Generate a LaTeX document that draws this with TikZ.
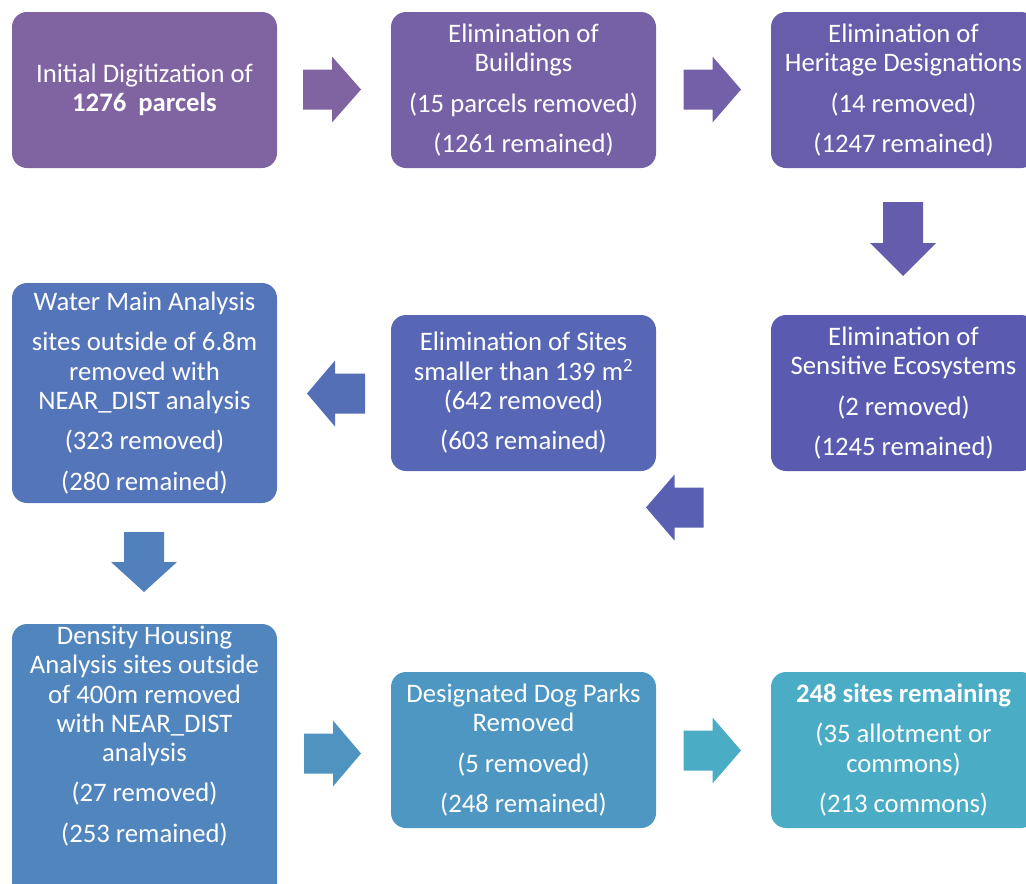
\documentclass[tikz,border=0pt]{standalone}
\usepackage{fontspec}
\setmainfont{Carlito}
\definecolor{c0}{HTML}{8064A2}
\definecolor{c1}{HTML}{7661A7}
\definecolor{c2}{HTML}{685DAB}
\definecolor{c3}{HTML}{5A5BB0}
\definecolor{c4}{HTML}{5767B5}
\definecolor{c5}{HTML}{5475B9}
\definecolor{c6}{HTML}{5185BD}
\definecolor{c7}{HTML}{4E97C2}
\definecolor{c8}{HTML}{4BACC6}
\colorlet{a0}{c0}
\colorlet{a1}{c1!86!c2}
\colorlet{a2}{c2!71!c3}
\colorlet{a3}{c3!57!c4}
\colorlet{a4}{c4!43!c5}
\colorlet{a5}{c5!29!c6}
\colorlet{a6}{c6!14!c7}
\colorlet{a7}{c8}
\newcommand\pgap{11pt}
% horizontal block arrow: colour, tail x, head-base x, tip x, centre y
\newcommand\HBlock[5]{\fill[#1] ({#2},{#5-20}) -- ({#3},{#5-20}) -- ({#3},{#5-33}) -- ({#4},{#5}) -- ({#3},{#5+33}) -- ({#3},{#5+20}) -- ({#2},{#5+20}) -- cycle;}
% vertical block arrow: colour, tail y, head-base y, tip y, centre x
\newcommand\VBlock[5]{\fill[#1] ({#5-20},{#2}) -- ({#5-20},{#3}) -- ({#5-33},{#3}) -- ({#5},{#4}) -- ({#5+33},{#3}) -- ({#5+20},{#3}) -- ({#5+20},{#2}) -- cycle;}
\begin{document}
\begin{tikzpicture}[x=1pt,y=-1pt,
  box/.style={rounded corners=15pt, minimum width=265pt, minimum height=156pt,
    inner sep=0pt, text=white, align=center, font=\fontsize{26.7}{29.3}\selectfont},
  txt/.style={inner sep=0pt, text=white, align=center, font=\fontsize{26.7}{29.3}\selectfont}]
\useasboundingbox (0,0) rectangle (1026,884);
\clip (0,0) rectangle (1026,884);

\node[box, fill=c0] (b1) at (144.5,90) {Initial Digitization of\\\textbf{1276\ \ parcels}};
\node[box, fill=c1] (b2) at (523.5,90) {Elimination of\\Buildings\\[\pgap](15 parcels removed)\\[\pgap](1261 remained)};
\node[box, fill=c2] (b3) at (903.5,90) {Elimination of\\Heritage Designations\\[\pgap](14 removed)\\[\pgap](1247 remained)};
\node[box, fill=c3] (b4) at (903.5,393) {Elimination of\\Sensitive Ecosystems\\[\pgap](2 removed)\\[\pgap](1245 remained)};
\node[box, fill=c4] (b5) at (523.5,393) {Elimination of Sites\\smaller than 139 m\textsuperscript{2}\\(642 removed)\\[\pgap](603 remained)};
\node[box, fill=c5, minimum height=220pt] (b6) at (144.5,393) {Water Main Analysis\\[\pgap]sites outside of 6.8m\\removed with\\NEAR\_DIST analysis\\[\pgap](323 removed)\\[\pgap](280 remained)};
\node[box, fill=c6, minimum height=276pt] (b7) at (144.5,762) {};
\node[txt] (t7) at (144.5,736) {Density Housing\\Analysis sites outside\\of 400m removed\\with NEAR\_DIST\\analysis\\[\pgap](27 removed)\\[\pgap](253 remained)};
\node[box, fill=c7] (b8) at (523.5,750) {Designated Dog Parks\\Removed\\[\pgap](5 removed)\\[\pgap](248 remained)};
\node[box, fill=c8] (b9) at (903.5,750) {\textbf{248 sites remaining}\\[\pgap](35 allotment or\\commons)\\[\pgap](213 commons)};

\HBlock{a0}{303}{332}{361}{89.5}
\HBlock{a1}{683.5}{712.5}{741}{89.5}
\VBlock{a2}{202}{243}{276}{903}
\HBlock{a3}{703.5}{674.5}{646}{507.5}
\HBlock{a4}{365}{335}{307}{393.5}
\VBlock{a5}{532}{562}{592}{144}
\HBlock{a6}{304}{333}{361}{753.5}
\HBlock{a7}{683.5}{712.5}{741}{750.5}
\end{tikzpicture}
\end{document}
